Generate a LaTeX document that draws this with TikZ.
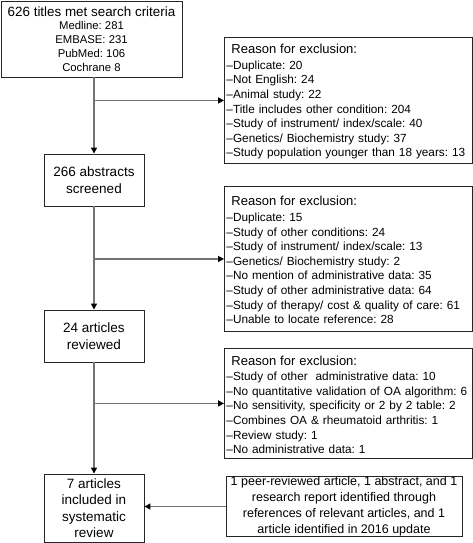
\documentclass[tikz,border=0pt]{standalone}
\usepackage{fontspec}
\setmainfont{Liberation Sans}
\usetikzlibrary{arrows.meta}
\usetikzlibrary{positioning}
\frenchspacing

\begin{document}
\begin{tikzpicture}[x=1pt, y=-1pt,
  stage/.style={draw=black!85, line width=0.9pt, rectangle, align=center, inner sep=0pt,
    minimum width=100pt, font=\fontsize{13.5}{16.5}\selectfont},
  reason/.style={draw=black!85, line width=0.9pt, rectangle, anchor=north west, align=left,
    inner xsep=2pt, inner ysep=0pt, minimum width=248pt, text width=244pt,
    font=\fontsize{11.8}{14.6}\selectfont},
  arr/.style={black!55, line width=1.8pt, -{Triangle[length=6pt,width=6pt,black]}},
]
\useasboundingbox (0,0) rectangle (473,543);

\node (titles) [stage, minimum width=181pt, minimum height=76pt, font=\fontsize{11.3}{14}\selectfont] at (91.5, 39)
  {{\fontsize{13.4}{15}\selectfont 626 titles met search criteria}\\[-1pt]
   Medline: 281\\
   EMBASE: 231\\
   PubMed: 106\\
   Cochrane 8};

\node (abs) [stage, minimum height=52pt] at (94, 180) {266 abstracts\\screened};
\node (rev) [stage, minimum height=52pt] at (94, 336) {24 articles\\reviewed};
\node (incl) [stage, minimum height=68pt] at (94, 508) {7 articles\\included in\\systematic\\review};

\node (excl1) [reason, minimum height=126pt] at (224, 37)
  {{\fontsize{13}{16}\selectfont\hspace{5pt}\rule{0pt}{12pt}Reason for exclusion:}\\[1pt]
   –Duplicate: 20\\
   –Not English: 24\\
   –Animal study: 22\\
   –Title includes other condition: 204\\
   –Study of instrument/ index/scale: 40\\
   –Genetics/ Biochemistry study: 37\\
   –Study population younger than 18 years: 13};

\node (excl2) [reason, minimum height=145pt] at (224, 186)
  {{\fontsize{13}{16}\selectfont\hspace{5pt}\rule{0pt}{12pt}Reason for exclusion:}\\[1pt]
   –Duplicate: 15\\
   –Study of other conditions: 24\\
   –Study of instrument/ index/scale: 13\\
   –Genetics/ Biochemistry study: 2\\
   –No mention of administrative data: 35\\
   –Study of other administrative data: 64\\
   –Study of therapy/ cost \& quality of care: 61\\
   –Unable to locate reference: 28};

\node (excl3) [reason, minimum height=110pt] at (224, 348)
  {{\fontsize{13}{16}\selectfont\hspace{5pt}\rule{0pt}{12pt}Reason for exclusion:}\\[1pt]
   –Study of other\ \ administrative data: 10\\
   –No quantitative validation of OA algorithm: 6\\
   –No sensitivity, specificity or 2 by 2 table: 2\\
   –Combines OA \& rheumatoid arthritis: 1\\
   –Review study: 1\\
   –No administrative data: 1};

\node (extra) [stage, minimum width=236pt, minimum height=55pt, font=\fontsize{12.5}{16}\selectfont] at (344, 506.5)
  {1 peer-reviewed article, 1 abstract, and 1\\
   research report identified through\\
   references of relevant articles, and 1\\
   article identified in 2016 update};

\draw[arr] (abs.north |- titles.south) -- (abs);
\draw[arr] (abs) -- (rev);
\draw[arr] (rev) -- (incl);
\foreach \r in {1,2,3}
  \draw[arr] (abs.north |- excl\r.west) -- (excl\r.west);
\draw[arr] (extra.west) -- (incl.east |- extra.west);
\end{tikzpicture}
\end{document}
